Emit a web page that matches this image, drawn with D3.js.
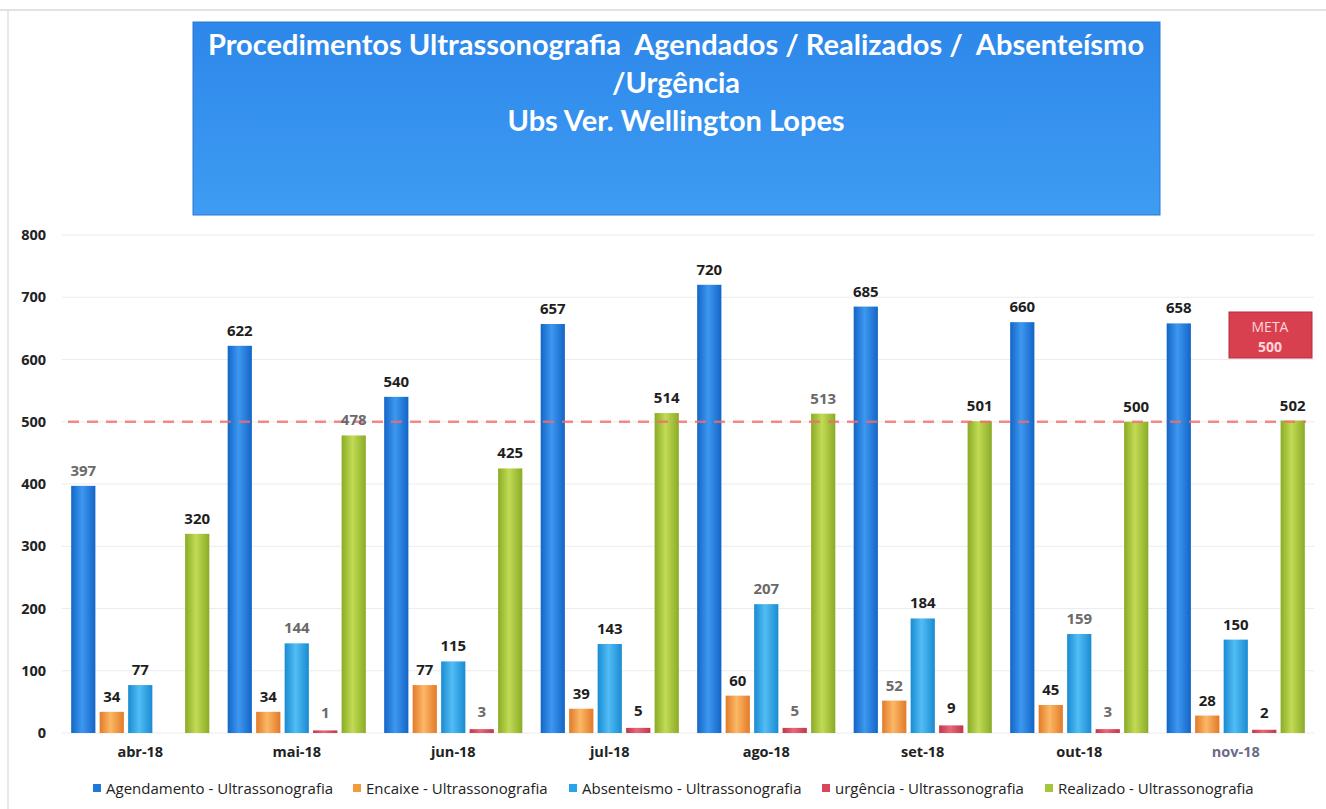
<!DOCTYPE html>
<html>
<head>
<meta charset="utf-8">
<script src="https://cdn.jsdelivr.net/npm/d3@7"></script>
<style>
  body { margin: 0; background: #fff; }
  text { font-family: "Open Sans", "DejaVu Sans", sans-serif; }
</style>
</head>
<body>
<div id="chart"></div>
<script>
// months on the x axis
const months = ["abr-18", "mai-18", "jun-18", "jul-18", "ago-18", "set-18", "out-18", "nov-18"];

// series values, one array per series
const agendamento = [397, 622, 540, 657, 720, 685, 660, 658];
const encaixe     = [34, 34, 77, 39, 60, 52, 45, 28];
const absenteismo = [77, 144, 115, 143, 207, 184, 159, 150];
const urgencia    = [null, 1, 3, 5, 5, 9, 3, 2];
const realizado   = [320, 478, 425, 514, 513, 501, 500, 502];

const seriesNames = [
  "Agendamento - Ultrassonografia",
  "Encaixe - Ultrassonografia",
  "Absenteismo - Ultrassonografia",
  "urgência - Ultrassonografia",
  "Realizado - Ultrassonografia"
];

const meta = 500;
const yTicks = [0, 100, 200, 300, 400, 500, 600, 700, 800];

const titleLines = [
  "Procedimentos Ultrassonografia  Agendados / Realizados /  Absenteísmo",
  "/Urgência",
  "Ubs Ver. Wellington Lopes"
];

// colours: [dark, light, base]
const colors = [
  ["#1465c6", "#3d98f0", "#1f78dc"],
  ["#e27a28", "#fcb866", "#f39a3e"],
  ["#1a8bd2", "#52bdf5", "#29a3ea"],
  ["#c2364a", "#e8687a", "#d8465a"],
  ["#8aab26", "#c2db55", "#a5c63a"]
];

const allSeries = [agendamento, encaixe, absenteismo, urgencia, realizado];

const width = 1326, height = 809;
const margin = {top: 235, right: 12, bottom: 76, left: 62};

const svg = d3.select("#chart").append("svg")
  .attr("width", width)
  .attr("height", height);

const defs = svg.append("defs");

colors.forEach((c, i) => {
  let g = defs.append("linearGradient")
    .attr("id", "grad" + i)
    .attr("x1", 0).attr("x2", 1).attr("y1", 0).attr("y2", 0);
  g.append("stop").attr("offset", "0%").attr("stop-color", c[0]);
  g.append("stop").attr("offset", "45%").attr("stop-color", c[1]);
  g.append("stop").attr("offset", "100%").attr("stop-color", c[0]);
});

let tg = defs.append("linearGradient")
  .attr("id", "titleGrad")
  .attr("x1", 0).attr("x2", 0).attr("y1", 0).attr("y2", 1);
tg.append("stop").attr("offset", "0%").attr("stop-color", "#2d87ea");
tg.append("stop").attr("offset", "100%").attr("stop-color", "#3e9cf2");

// faint scan border
svg.append("line")
  .attr("x1", 0).attr("x2", width).attr("y1", 10).attr("y2", 10)
  .attr("stroke", "#d8d8d8").attr("stroke-width", 1.5);
svg.append("line")
  .attr("x1", 8).attr("x2", 8).attr("y1", 10).attr("y2", height)
  .attr("stroke", "#e2e2e2").attr("stroke-width", 1.5);

// title box
svg.append("rect")
  .attr("x", 193).attr("y", 22)
  .attr("width", 967).attr("height", 193)
  .attr("fill", "url(#titleGrad)")
  .attr("stroke", "#2a78d0").attr("stroke-width", 1);

svg.append("g").selectAll("text")
  .data(titleLines)
  .join("text")
  .attr("x", 676)
  .attr("y", (d, i) => 55 + i * 38)
  .attr("text-anchor", "middle")
  .attr("fill", "#fff")
  .attr("font-size", 29)
  .attr("font-weight", "bold")
  .style("font-family", "Lato, sans-serif")
  .style("white-space", "pre")
  .text(d => d);

// scales
const x0 = d3.scaleBand()
  .domain(months)
  .range([margin.left, width - margin.right])
  .paddingInner(0.11)
  .paddingOuter(0.055);

const x1 = d3.scaleBand()
  .domain(d3.range(seriesNames.length))
  .range([0, x0.bandwidth()])
  .paddingInner(0.15)
  .paddingOuter(0.02);

const y = d3.scaleLinear()
  .domain([0, 800])
  .range([height - margin.bottom, margin.top]);

// gridlines
svg.append("g")
  .selectAll("line")
  .data(yTicks)
  .join("line")
  .attr("x1", margin.left)
  .attr("x2", width - margin.right)
  .attr("y1", d => y(d))
  .attr("y2", d => y(d))
  .attr("stroke", "#ececec")
  .attr("stroke-width", 1);

// y axis labels
const yAxis = d3.axisLeft(y).tickValues(yTicks).tickSize(0).tickPadding(16);
svg.append("g")
  .attr("transform", "translate(" + margin.left + ",0)")
  .call(yAxis)
  .call(g => g.select(".domain").remove())
  .call(g => g.selectAll("text")
    .attr("font-size", 14.5)
    .attr("font-weight", "bold")
    .attr("fill", "#222")
    .style("font-family", "Open Sans, sans-serif"));

// x axis labels
const xAxis = d3.axisBottom(x0).tickSize(0).tickPadding(14);
svg.append("g")
  .attr("transform", "translate(0," + y(0) + ")")
  .call(xAxis)
  .call(g => g.select(".domain").remove())
  .call(g => g.selectAll("text")
    .attr("font-size", 14.5)
    .attr("font-weight", "bold")
    .attr("fill", (d, i) => i === months.length - 1 ? "#6d6a8a" : "#222")
    .style("font-family", "Open Sans, sans-serif"));

// flatten data
const barData = [];
months.forEach((m, i) => {
  allSeries.forEach((s, k) => {
    barData.push({month: m, series: k, value: s[i]});
  });
});

const groups = svg.append("g").attr("class", "bars");

groups.selectAll("rect")
  .data(barData.filter(d => d.value !== null))
  .join("rect")
  .attr("x", d => x0(d.month) + x1(d.series))
  .attr("width", x1.bandwidth())
  .attr("y", d => y(d.value) - (d.series === 3 ? 2 : 0))
  .attr("height", d => y(0) - y(d.value) + (d.series === 3 ? 2 : 0))
  .attr("fill", d => "url(#grad" + d.series + ")");

// meta line
svg.append("line")
  .attr("x1", 68)
  .attr("x2", width - 20)
  .attr("y1", y(meta))
  .attr("y2", y(meta))
  .attr("stroke", "#f26d6d")
  .attr("stroke-width", 2.5)
  .attr("stroke-dasharray", "11,8")
  .attr("opacity", 0.8);

// value labels
const faded = new Set(["0-0", "1-4", "1-2", "1-3", "2-3", "4-4", "4-2", "4-3", "5-1", "6-2", "6-3"]);

svg.append("g")
  .selectAll("text")
  .data(barData.filter(d => d.value !== null))
  .join("text")
  .attr("x", d => x0(d.month) + x1(d.series) + x1.bandwidth() / 2)
  .attr("y", d => y(d.value) - (d.series === 3 ? 14 : 10))
  .attr("text-anchor", "middle")
  .attr("font-size", 15)
  .attr("font-weight", "bold")
  .attr("fill", d => faded.has(months.indexOf(d.month) + "-" + d.series) ? "#6a6a6a" : "#1e1e1e")
  .text(d => d.value);

// meta badge
const badge = svg.append("g").attr("transform", "translate(1229,312)");
badge.append("rect")
  .attr("width", 83).attr("height", 46)
  .attr("fill", "#d8404f")
  .attr("stroke", "#b52c3a");
badge.append("text")
  .attr("x", 41).attr("y", 20)
  .attr("text-anchor", "middle")
  .attr("font-size", 14)
  .attr("fill", "#ffd6da")
  .text("META");
badge.append("text")
  .attr("x", 41).attr("y", 40)
  .attr("text-anchor", "middle")
  .attr("font-size", 14)
  .attr("font-weight", "bold")
  .attr("fill", "#ffd6da")
  .text(String(meta));

// legend
const legendX = [93, 353, 569, 822, 1045];
const legend = svg.append("g").attr("transform", "translate(0,789)");
const items = legend.selectAll("g")
  .data(seriesNames)
  .join("g")
  .attr("transform", (d, i) => "translate(" + legendX[i] + ",0)");
items.append("rect")
  .attr("x", 0).attr("y", -5)
  .attr("width", 8).attr("height", 8)
  .attr("fill", (d, i) => colors[i][2]);
items.append("text")
  .attr("x", 13).attr("y", 5)
  .attr("font-size", 15)
  .attr("fill", "#222")
  .text(d => d);
</script>
</body>
</html>
